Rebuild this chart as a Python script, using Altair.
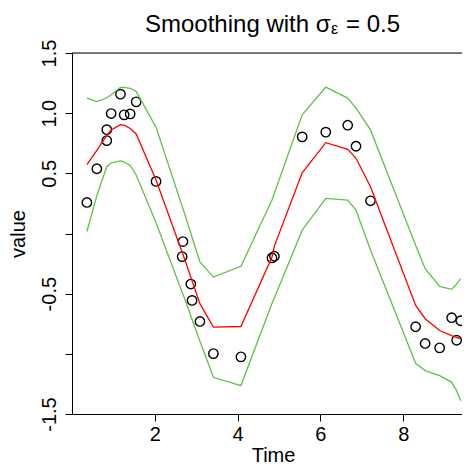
import altair as alt
import pandas as pd

# observed data points
point_time = [0.36, 0.60, 0.84, 0.84, 0.946, 1.17, 1.26, 1.405, 1.55, 2.03,
              2.68, 2.66, 2.87, 2.90, 3.09, 3.415, 4.08, 4.83, 4.89, 5.56,
              6.13, 6.66, 6.86, 7.21, 8.30, 8.53, 8.88, 9.17, 9.39, 9.29]
point_value = [0.258, 0.538, 0.863, 0.772, 0.997, 1.158, 0.986, 0.994, 1.094, 0.433,
               -0.067, -0.192, -0.42, -0.556, -0.731, -0.998, -1.025, -0.203, -0.189, 0.803,
               0.842, 0.90, 0.725, 0.272, -0.775, -0.914, -0.95, -0.70, -0.725, -0.887]

# smoothed mean and band
line_time = [0.36, 0.60, 0.84, 0.946, 1.17, 1.26, 1.405, 1.55, 2.03, 2.66,
             2.68, 2.87, 2.90, 3.09, 3.415, 4.08, 4.83, 4.89, 5.56, 6.13,
             6.66, 6.86, 7.21, 8.30, 8.53, 8.88, 9.17, 9.29, 9.39]
mean_vals = [0.572, 0.69, 0.815, 0.86, 0.905, 0.90, 0.873, 0.827, 0.444, -0.156,
             -0.173, -0.364, -0.394, -0.583, -0.778, -0.773, -0.195, -0.103, 0.505, 0.755,
             0.70, 0.625, 0.388, -0.598, -0.708, -0.806, -0.848, -0.864, -0.875]
upper_vals = [1.125, 1.096, 1.128, 1.153, 1.215, 1.215, 1.207, 1.18, 0.882, 0.226,
              0.208, 0.003, -0.031, -0.237, -0.362, -0.273, 0.278, 0.337, 0.986, 1.217,
              1.125, 1.042, 0.861, -0.098, -0.292, -0.439, -0.464, -0.42, -0.375]
lower_vals = [0.017, 0.315, 0.555, 0.586, 0.603, 0.594, 0.565, 0.486, 0.09, -0.488,
              -0.503, -0.684, -0.714, -0.895, -1.195, -1.264, -0.581, -0.533, 0.028, 0.292,
              0.278, 0.194, -0.137, -1.078, -1.139, -1.181, -1.237, -1.306, -1.389]

x_ticks = [2, 4, 6, 8]
y_ticks = [-1.5, -1.0, -0.5, 0.0, 0.5, 1.0, 1.5]
x_domain = [0, 9.42]
y_domain = [-1.5, 1.5]

FONT = "Liberation Sans"
W, H = 390, 361
GREEN = "#61C04A"
RED = "#FF0000"

pts = pd.DataFrame({"Time": point_time, "value": point_value})
lines = pd.DataFrame({"Time": line_time, "mean": mean_vals,
                      "upper": upper_vals, "lower": lower_vals})

x_scale = alt.Scale(domain=x_domain, nice=False, zero=False)
y_scale = alt.Scale(domain=y_domain, nice=False, zero=False)

x_axis = alt.Axis(values=x_ticks, title="Time", grid=False, tickSize=7,
                  tickColor="black", domainColor="black", tickWidth=1, domainWidth=1,
                  labelFontSize=20, labelFont=FONT, labelColor="black",
                  labelPadding=19, labelBaseline="alphabetic", labelFlush=False,
                  labelOverlap=False,
                  titleFontSize=20, titleFont=FONT, titleFontWeight="normal",
                  titleColor="black", titleBaseline="alphabetic",
                  titleX=201, titleY=47)
y_axis = alt.Axis(values=y_ticks, title="value", grid=False, tickSize=7,
                  tickColor="black", domainColor="black", tickWidth=1, domainWidth=1,
                  labelFontSize=20, labelFont=FONT, labelColor="black",
                  labelAngle=270, labelAlign="center", labelBaseline="alphabetic",
                  labelPadding=10, labelFlush=False, labelOverlap=False,
                  labelExpr="(datum.value == 0 || datum.value == -1) ? '' : replace(format(datum.value, '.1f'), '\u2212', '-')",
                  titleFontSize=20, titleFont=FONT, titleFontWeight="normal",
                  titleColor="black", titleAngle=270, titleAlign="center",
                  titleBaseline="alphabetic", titleX=-48, titleY=180.5)

X = lambda f: alt.X(f, type="quantitative", scale=x_scale, axis=x_axis)
Y = lambda f: alt.Y(f, type="quantitative", scale=y_scale, axis=y_axis)

points = alt.Chart(pts).mark_point(shape="circle", filled=False, color="black",
                                   size=88, strokeWidth=1.4, opacity=1).encode(
    x=X("Time"), y=Y("value"))

mean_line = alt.Chart(lines).mark_line(color=RED, strokeWidth=1.3).encode(
    x=X("Time"), y=Y("mean"))
upper_line = alt.Chart(lines).mark_line(color=GREEN, strokeWidth=1.3).encode(
    x=X("Time"), y=Y("upper"))
lower_line = alt.Chart(lines).mark_line(color=GREEN, strokeWidth=1.3).encode(
    x=X("Time"), y=Y("lower"))

top_border = alt.Chart(pd.DataFrame({"a": [0]})).mark_rule(color="black", strokeWidth=1).encode(
    x=alt.value(0), x2=alt.value(W), y=alt.value(0))

one = pd.DataFrame({"a": [0]})
t1 = alt.Chart(one).mark_text(text="Smoothing with \u03c3", font=FONT, fontSize=24,
                              align="left", baseline="alphabetic", color="black").encode(
    x=alt.value(73), y=alt.value(-21.5))
t2 = alt.Chart(one).mark_text(text="\u03b5", font=FONT, fontSize=16,
                              align="left", baseline="alphabetic", color="black").encode(
    x=alt.value(259), y=alt.value(-19))
t3 = alt.Chart(one).mark_text(text="= 0.5", font=FONT, fontSize=24,
                              align="right", baseline="alphabetic", color="black").encode(
    x=alt.value(328), y=alt.value(-21.5))

chart = alt.layer(points, mean_line, upper_line, lower_line, top_border, t1, t2, t3).properties(
    width=W, height=H,
    autosize=alt.AutoSizeParams(type="none"),
    padding={"left": 64, "top": 45, "right": 0, "bottom": 51},
).configure_view(stroke=None).configure(background="white")

chart.save("out.html", embed_options={"renderer": "svg", "actions": False})
